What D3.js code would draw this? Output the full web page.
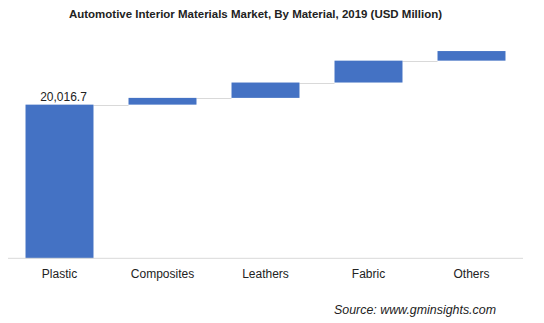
<!DOCTYPE html>
<html><head><meta charset="utf-8">
<script src="https://cdn.jsdelivr.net/npm/d3@7"></script>
<style>body{margin:0;background:#fff}svg{display:block}</style>
</head><body>
<script>
const categories = ["Plastic","Composites","Leathers","Fabric","Others"];
const values = [20016.7, 880, 2000, 2850, 1250];
const labels = ["20,016.7", "", "", "", ""];
const titleText = "Automotive Interior Materials Market, By Material, 2019 (USD Million)";
const sourceText = "Source: www.gminsights.com";

const W = 544, H = 323;
const svg = d3.select("body").append("svg").attr("width", W).attr("height", H);

const x = d3.scaleBand().domain(categories).range([8, 523]).paddingInner(0.34).paddingOuter(0.17);
const y = d3.scaleLinear().domain([0, 30000]).range([258.3, 28]);

let cum = 0;
const bars = categories.map((c, i) => {
  const start = cum; cum += values[i];
  return {c, start, end: cum, label: labels[i]};
});

svg.append("text").attr("x", 255.5).attr("y", 17.5).attr("text-anchor", "middle")
  .attr("font-family", "Liberation Sans, Arial, sans-serif").attr("font-weight", "bold")
  .attr("font-size", 11.5).attr("textLength", 373).attr("lengthAdjust", "spacingAndGlyphs")
  .attr("fill", "#222").text(titleText);

// connectors
svg.append("g").selectAll("line").data(bars.slice(0, -1)).join("line")
  .attr("x1", d => x(d.c) + x.bandwidth())
  .attr("x2", (d, i) => x(categories[i + 1]))
  .attr("y1", d => Math.round(y(d.end)) + 0.5)
  .attr("y2", d => Math.round(y(d.end)) + 0.5)
  .attr("stroke", "#d9d9d9").attr("stroke-width", 1);

svg.append("g").selectAll("rect").data(bars).join("rect")
  .attr("x", d => x(d.c)).attr("width", x.bandwidth())
  .attr("y", d => y(d.end)).attr("height", d => y(d.start) - y(d.end))
  .attr("fill", "#4472C4");

// axis
const axis = d3.axisBottom(x).tickSize(0).tickPadding(11);
const ag = svg.append("g").attr("transform", "translate(0,258.3)").call(axis);
ag.select(".domain").attr("stroke", "#d9d9d9").attr("d", "M8,0H523");
ag.selectAll("text").attr("font-family", "Liberation Sans, Arial, sans-serif")
  .attr("font-size", 12).attr("fill", "#222");

svg.append("g").selectAll("text").data(bars.filter(d => d.label)).join("text")
  .attr("x", d => x(d.c) + x.bandwidth() / 2 + 4).attr("y", d => y(d.end) - 3.5)
  .attr("text-anchor", "middle").attr("font-family", "Liberation Sans, Arial, sans-serif")
  .attr("font-size", 12).attr("fill", "#222").text(d => d.label);

svg.append("text").attr("x", 334).attr("y", 314)
  .attr("font-family", "Liberation Sans, Arial, sans-serif").attr("font-style", "italic")
  .attr("font-size", 12.5).attr("textLength", 162).attr("lengthAdjust", "spacingAndGlyphs")
  .attr("fill", "#222").text(sourceText);
</script>
</body></html>
